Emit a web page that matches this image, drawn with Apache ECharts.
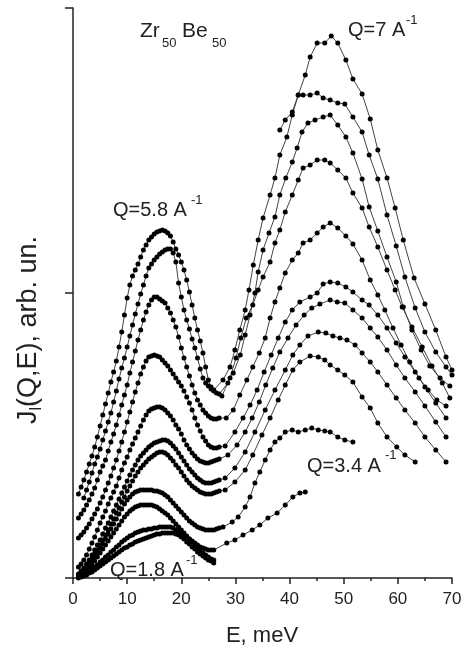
<!DOCTYPE html>
<html>
<head>
<meta charset="utf-8">
<script src="https://cdn.jsdelivr.net/npm/echarts@6/dist/echarts.min.js"></script>
<style>
  html, body { margin: 0; padding: 0; background: #fff; }
  #chart { width: 466px; height: 651px; }
</style>
</head>
<body>
<div id="chart"></div>
<script>
// energy grid of the dense low-energy scans, meV
const eLow = [1,1.5,2,2.5,3,3.5,4,4.5,5,5.5,6,6.5,7,7.5,8,8.5,9,9.5,10,10.5,11,11.5,12,12.5,13,13.5,
  14,14.5,15,15.5,16,16.5,17,17.5,18,18.5,19,19.5,20,20.5,21,21.5,22,22.5,23,23.5,24,24.5,25,25.5,26,26.5,27];

// low-energy parts (arb. un.), null = no point
const lowA = [84,91,98,106,114,122,131,141,152,163,174,185,196,206,217,231,246,263,280,293,302,308,314,321,328,333,
  338,341,344,346,347,348,347,345,342,336,329,323,316,308,298,286,273,260,248,237,225,211,198,191,187,185,184];
const lowB = [null,null,80,88,96,105,114,121,129,138,147,156,165,176,187,199,210,220,231,242,253,264,274,284,293,302,
  310,314,318,321,324,326,328,329,329,325,316,295,281,268,258,249,239,230,220,209,200,195,192,189,188];
const lowC = [60,64,68,73,78,84,90,98,106,112,118,127,136,144,153,163,173,183,193,205,216,227,238,248,258,266,
  273,278,281,281,279,277,275,270,265,258,251,241,230,220,211,202,193,185,178,173,168,165,162,160,159,159,160];
const lowD = [40,43,46,50,54,59,64,69,75,81,88,95,102,110,118,127,136,146,156,166,176,186,195,204,211,217,
  221,222,223,222,221,218,215,212,208,204,200,196,192,187,181,175,168,160,153,147,141,137,133,131,130,130,131];
const lowE = [11,14,18,23,29,35,41,48,55,61,67,74,80,86,92,100,108,115,121,128,134,140,146,152,158,163,
  167,169,170,171,171,170,168,165,162,158,153,149,144,138,133,129,125,122,119,117,116,115,115,116,117,118,119];
const lowF = [4,7,10,14,18,23,28,33,38,44,50,55,61,67,73,79,85,91,97,103,108,113,118,122,125,128,
  131,133,135,136,137,138,138,137,135,132,129,125,121,117,113,109,106,103,100,98,96,95,95,95,96,97,98];
const lowG = [3,5,8,11,15,19,24,28,33,38,43,48,54,59,65,70,76,81,87,92,97,102,106,110,113,116,
  119,121,123,125,126,126,125,123,120,117,113,110,106,102,98,95,92,90,88,86,85,84,84,84,85,86,87];
const lowH = [2,4,6,9,13,17,21,25,30,34,39,44,49,54,59,64,69,74,78,81,84,86,87,88,88,88,
  88,88,87,87,86,85,83,81,78,75,72,69,66,63,60,57,55,53,51,50,49,48,48,48,48,49,50];
const lowI = [1,2,4,7,10,13,17,21,25,29,33,37,41,45,49,53,57,61,64,67,69,71,72,73,73,73,
  73,73,72,71,69,67,65,63,60,57,54,51,48,45,42,39,36,33,30,27,25,23,21,19,18];
const lowJ = [1,2,3,5,7,9,11,13,16,18,21,23,26,28,31,33,36,38,40,42,43,45,46,47,48,48,
  49,49,50,50,51,51,51,51,51,50,48,47,45,43,41,39,37,35,33,31,30,29,28,28,28];
const lowK = [0,1,2,3,5,6,8,10,12,14,16,18,20,22,24,26,28,30,31,33,34,36,37,38,39,40,
  41,42,43,44,44,45,45,45,45,45,44,43,41,39,36,34,31,29,26,24,22,20,18,17,15];

// high-energy parts [E, J]
const high7 = [[27.7,198],[29.0,211],[29.9,228],[30.8,248],[31.8,268],[32.5,288],[33.3,313],[34.2,338],[35.1,360],[36.4,383],[37.3,400],[38.2,423],[39.5,441],[40.5,463],[41.6,483],[42.9,503],[43.8,521],[45.1,535],[46.5,535],[47.7,542],[48.9,535],[50.4,518],[51.7,499],[53.4,484],[54.9,459],[56.3,428],[58.0,400],[59.5,370],[61.0,338],[63.0,300],[65.0,274],[67.0,248],[68.9,221],[70.0,208]];
const highB = [[38.2,448],[39.2,458],[40.5,466],[41.6,483],[42.5,483],[43.8,483],[45.1,485],[46.2,480],[47.5,478],[48.9,475],[50.2,474],[51.7,461],[53.4,446],[54.7,423],[56.3,399],[58.0,363],[59.7,332],[61.3,301],[63.2,270],[65.0,246],[67.0,226],[68.9,211],[70.0,203]];
const highC = [[28.6,195],[29.6,205],[30.9,223],[31.8,243],[32.7,263],[33.6,285],[34.2,306],[35.1,328],[36.2,345],[37.3,361],[38.2,383],[39.3,400],[40.5,416],[41.4,430],[42.3,446],[43.4,455],[44.7,458],[46.2,461],[47.5,463],[48.9,453],[50.4,441],[51.7,425],[53.4,399],[54.7,371],[56.3,347],[58.0,321],[59.7,296],[61.0,271],[62.6,248],[64.3,228],[65.9,212],[67.8,200],[69.6,192]];
const highD = [[27.5,182],[29.0,200],[30.1,220],[31.0,240],[32.0,260],[33.2,273],[34.2,288],[35.1,301],[36.4,316],[37.3,335],[38.2,348],[39.2,366],[40.5,383],[41.6,398],[42.5,410],[43.8,413],[45.1,418],[46.5,418],[47.5,415],[48.9,408],[50.4,400],[51.7,385],[53.4,370],[54.7,351],[56.3,331],[58.0,308],[59.5,288],[60.8,271],[62.6,251],[64.5,231],[66.3,212],[68.2,195],[69.6,180]];
const highE = [[28.3,160],[29.6,168],[30.8,183],[32.1,198],[33.2,211],[34.4,225],[35.5,240],[36.4,260],[37.3,276],[38.2,290],[39.2,305],[40.5,318],[41.6,325],[42.5,335],[43.8,338],[45.1,345],[46.2,351],[47.5,355],[48.9,350],[50.4,342],[51.7,334],[53.4,318],[54.9,298],[56.3,283],[57.6,268],[59.1,250],[60.6,233],[62.2,216],[63.9,200],[65.6,188],[67.2,178],[68.9,172]];
const highF = [[28.1,132],[29.9,146],[31.4,160],[32.7,173],[34.0,188],[35.3,206],[36.6,223],[37.9,240],[39.2,256],[40.5,268],[41.9,276],[43.8,281],[45.1,285],[46.2,294],[47.5,296],[48.9,295],[50.4,291],[51.7,286],[53.4,278],[54.7,273],[56.3,263],[58.0,250],[59.7,235],[61.3,221],[63.2,206],[65.0,191],[67.0,175],[68.9,160]];
const highG = [[28.6,123],[30.3,133],[31.8,146],[33.1,160],[34.4,176],[35.6,193],[36.9,210],[38.2,226],[39.7,240],[41.2,253],[42.7,263],[44.1,270],[45.6,274],[47.5,278],[48.8,276],[50.2,275],[51.7,268],[53.4,260],[54.9,250],[56.3,241],[58.0,228],[59.7,213],[61.3,200],[63.2,186],[65.0,172],[67.0,156],[68.9,141]];
const highH = [[28.1,100],[29.9,110],[31.8,126],[33.6,146],[35.5,168],[37.3,188],[39.2,208],[40.6,223],[41.9,233],[43.4,242],[45.3,246],[46.7,245],[48.0,242],[49.3,240],[50.6,238],[52.1,233],[53.4,225],[54.9,216],[56.3,206],[58.0,193],[59.7,180],[61.3,168],[63.2,155],[65.0,141],[67.0,128],[68.9,116]];
const highI = [[28.1,88],[29.9,96],[31.8,108],[33.2,123],[34.9,143],[36.4,160],[37.9,178],[39.2,193],[40.6,208],[41.9,216],[43.8,222],[45.3,221],[46.5,218],[47.5,213],[48.9,208],[50.2,203],[51.7,196],[53.4,181],[54.9,170],[56.3,155],[58.0,141],[59.8,131],[61.3,123],[63.2,116]];
const highJ = [[27.7,51],[29.4,56],[30.5,61],[31.8,71],[32.7,81],[33.6,95],[34.5,106],[35.5,118],[36.4,128],[37.3,136],[38.2,140],[39.2,146],[40.5,148],[41.6,146],[42.9,148],[44.1,150],[45.3,148],[46.5,147],[47.5,146],[48.9,141],[50.2,138],[51.7,136]];
const highK = [[28.4,35],[29.9,38],[31.4,43],[33.1,48],[34.5,53],[36.0,60],[37.7,65],[39.2,73],[40.6,81],[41.9,85],[42.9,86]];

// which low part joins which high part
const curves = [
  [lowB, high7], [lowA, highC], [null, highB], [null, highD],
  [lowC, highE], [lowD, highF], [lowE, highG], [lowF, highH],
  [lowG, highI], [lowH, highJ], [lowI, null], [lowJ, highK], [lowK, null]
];

function joinParts(low, high) {
  let pts = [];
  if (low) {
    low.forEach(function (v, i) {
      if (v !== null) pts.push([eLow[i], v]);
    });
  }
  if (high) pts = pts.concat(high);
  return pts;
}

const FONT = '"Liberation Sans", Arial, sans-serif';

let chart = echarts.init(document.getElementById('chart'));
chart.setOption({
  animation: false,
  backgroundColor: '#fff',
  grid: { left: 73, right: 14, top: 8, bottom: 73 },
  xAxis: {
    type: 'value', min: 0, max: 70, interval: 10,
    axisLine: { show: true, onZero: false, lineStyle: { color: '#222', width: 1.5 } },
    axisTick: { show: true, length: 6, lineStyle: { color: '#222', width: 1.5 } },
    minorTick: { show: true, splitNumber: 2, length: 3, lineStyle: { color: '#222', width: 1.5 } },
    splitLine: { show: false },
    axisLabel: { color: '#222', fontSize: 17, fontFamily: FONT, margin: 13 }
  },
  yAxis: {
    type: 'value', min: 0, max: 570, interval: 285,
    axisLine: { show: true, lineStyle: { color: '#222', width: 1.5 } },
    axisTick: { show: true, length: 8, lineStyle: { color: '#222', width: 1.5 } },
    splitLine: { show: false },
    axisLabel: { show: false }
  },
  series: curves.map(function (c, k) {
    return {
      name: 'curve' + k,
      type: 'line',
      data: joinParts(c[0], c[1]),
      symbol: 'circle',
      symbolSize: 5,
      itemStyle: { color: '#000' },
      lineStyle: { color: '#444', width: 1 },
      silent: true
    };
  }),
  graphic: [
    { type: 'text', x: 29, y: 330, rotation: Math.PI / 2,
      style: { text: '{a|J}{s|l}{a|(Q,E), arb. un.}', align: 'center', verticalAlign: 'middle', fill: '#222',
        rich: { a: { fontSize: 27, fontFamily: FONT, fill: '#222', lineHeight: 32 },
                s: { fontSize: 16, fontFamily: FONT, fill: '#222', verticalAlign: 'bottom', lineHeight: 19 } } } },
    { type: 'text', x: 262, y: 636, style: { text: 'E, meV', font: '22px ' + FONT, fill: '#222', align: 'center', verticalAlign: 'middle' } },
    { type: 'text', x: 140, y: 31, style: { text: 'Zr', font: '21px ' + FONT, fill: '#222', verticalAlign: 'middle' } },
    { type: 'text', x: 162, y: 43, style: { text: '50', font: '13px ' + FONT, fill: '#222', verticalAlign: 'middle' } },
    { type: 'text', x: 182, y: 31, style: { text: 'Be', font: '21px ' + FONT, fill: '#222', verticalAlign: 'middle' } },
    { type: 'text', x: 212, y: 43, style: { text: '50', font: '13px ' + FONT, fill: '#222', verticalAlign: 'middle' } },
    { type: 'text', x: 113, y: 210, style: { text: 'Q=5.8 A', font: '20px ' + FONT, fill: '#222', verticalAlign: 'middle' } },
    { type: 'text', x: 191, y: 200, style: { text: '-1', font: '13px ' + FONT, fill: '#222', verticalAlign: 'middle' } },
    { type: 'text', x: 348, y: 30, style: { text: 'Q=7 A', font: '20px ' + FONT, fill: '#222', verticalAlign: 'middle' } },
    { type: 'text', x: 406, y: 20, style: { text: '-1', font: '13px ' + FONT, fill: '#222', verticalAlign: 'middle' } },
    { type: 'text', x: 307, y: 466, style: { text: 'Q=3.4 A', font: '20px ' + FONT, fill: '#222', verticalAlign: 'middle' } },
    { type: 'text', x: 385, y: 455, style: { text: '-1', font: '13px ' + FONT, fill: '#222', verticalAlign: 'middle' } },
    { type: 'text', x: 110, y: 570, style: { text: 'Q=1.8 A', font: '20px ' + FONT, fill: '#222', verticalAlign: 'middle' } },
    { type: 'text', x: 186, y: 560, style: { text: '-1', font: '13px ' + FONT, fill: '#222', verticalAlign: 'middle' } }
  ]
});
</script>
</body>
</html>
